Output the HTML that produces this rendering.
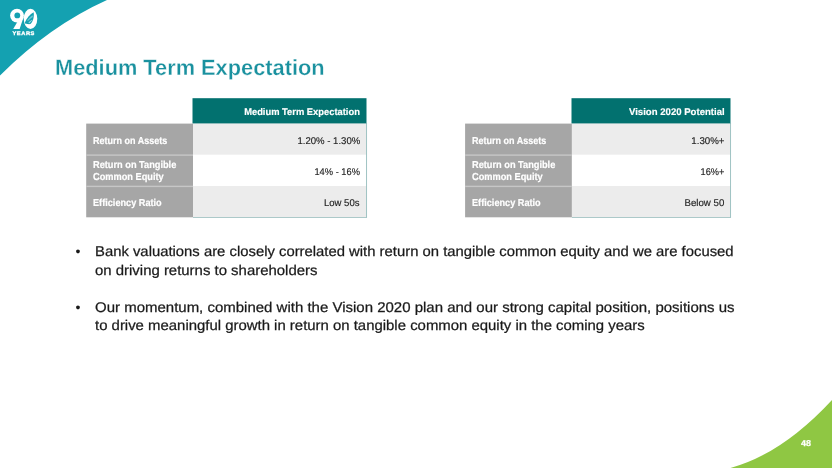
<!DOCTYPE html>
<html><head><meta charset="utf-8">
<style>
html,body{margin:0;padding:0;}
body{width:832px;height:468px;position:relative;overflow:hidden;background:#fff;font-family:"Liberation Sans",sans-serif;text-rendering:geometricPrecision;}
.t{position:absolute;white-space:nowrap;line-height:20px;height:20px;}
.t.l{transform-origin:0 50%;}
.t.r{transform-origin:100% 50%;}
svg{position:absolute;left:0;top:0;}
</style></head><body>
<svg width="832" height="468" viewBox="0 0 832 468">
<path d="M0,0 L107,0 Q49.7,25.8 0,75.5 Z" fill="#14a1b1"/>
<path d="M832,468 L730.5,468 Q782,454 832,400 Z" fill="#8fc743"/>
<!-- table 1 -->
<g>
<rect x="193" y="123.2" width="174.2" height="94.8" fill="#000" opacity="0.05"/>
<rect x="86.2" y="123.6" width="106.8" height="93.7" fill="#a6a6a6"/>
<rect x="193" y="123.2" width="173.1" height="31.6" fill="#ececec"/>
<rect x="193" y="154.7" width="173.1" height="31.5" fill="#ffffff"/>
<rect x="193" y="186.1" width="173.1" height="31.0" fill="#ececec"/>
<rect x="366" y="123.2" width="0.7" height="94.4" fill="#7fb0b0"/>
<rect x="193" y="217" width="173.7" height="0.6" fill="#7fb0b0"/>
<rect x="86.2" y="154.4" width="106.8" height="1.4" fill="#c6c6c6"/>
<rect x="86.2" y="185.7" width="106.8" height="1.4" fill="#c6c6c6"/>
<rect x="192.5" y="98.2" width="174" height="25.2" fill="#02716f"/>
</g>
<!-- table 2 -->
<g>
<rect x="571.9" y="123.2" width="159.3" height="94.8" fill="#000" opacity="0.05"/>
<rect x="465.1" y="123.6" width="106.8" height="93.7" fill="#a6a6a6"/>
<rect x="571.9" y="123.2" width="158.2" height="31.6" fill="#ececec"/>
<rect x="571.9" y="154.7" width="158.2" height="31.5" fill="#ffffff"/>
<rect x="571.9" y="186.1" width="158.2" height="31.0" fill="#ececec"/>
<rect x="730" y="123.2" width="0.7" height="94.4" fill="#7fb0b0"/>
<rect x="571.9" y="217" width="158.8" height="0.6" fill="#7fb0b0"/>
<rect x="465.1" y="154.4" width="106.8" height="1.4" fill="#c6c6c6"/>
<rect x="465.1" y="185.7" width="106.8" height="1.4" fill="#c6c6c6"/>
<rect x="571.5" y="98.2" width="159" height="25.2" fill="#02716f"/>
</g>
</svg>
<svg width="60" height="45" viewBox="0 0 60 45" style="position:absolute;left:0;top:0;will-change:transform">
<g fill="#fff">
<circle cx="17" cy="15.6" r="6.9"/>
<path d="M23.8,16.6 L19.6,28.9 L13.2,28.9 L18.2,20.5 Z"/>
<ellipse cx="30.5" cy="18.8" rx="6.8" ry="10.1"/>
</g>
<circle cx="17.3" cy="15.4" r="2.9" fill="#14a1b1"/>
<path d="M33.6,12.2 C34.4,17 33,22 29.8,24.6 C28.4,25 25.8,24.4 24.6,23 C26.8,18.2 30,14.2 33.6,12.2 Z" fill="#14a1b1"/>
<path d="M32.6,15.2 C30.6,16.6 28.6,18.4 27.2,20.2 L27.9,20.9 C29.6,19.4 31.4,18 32.9,17 Z" fill="#6cc4d3"/>
<path d="M32.4,19.4 C30.8,20.4 29.4,21.4 28.4,22.6 L29.3,23.2 C30.4,22.2 31.4,21.4 32,20.6 Z" fill="#9ad8e3"/>
<path d="M25.6,23.4 C27.4,24.4 30,24.6 32.4,23.4 L31.6,25.4 C29.6,26.2 27,25.8 25.4,24.6 Z" fill="#fff"/>
<g fill="#fff" font-family="Liberation Sans" font-weight="bold" font-size="5.2" letter-spacing="0.55">
<text x="12.4" y="34.6" textLength="22.6" lengthAdjust="spacingAndGlyphs" stroke="#fff" stroke-width="0.35">YEARS</text>
</g>
</svg>
<div id="txt" style="position:absolute;left:0;top:0;width:832px;height:468px;will-change:transform;">
<div id="title" class="t l" style="left:54.80px;top:58.00px;font-size:22.0px;font-weight:bold;color:#1a919f;transform:scaleX(0.9904);-webkit-text-stroke:0.3px #fff;">Medium Term Expectation</div>
<div id="h1" class="t r" style="right:472.10px;top:103.00px;font-size:9.7px;font-weight:bold;color:#fff;transform:scaleX(0.9653);-webkit-text-stroke:0.15px #fff;">Medium Term Expectation</div>
<div id="v11" class="t r" style="right:472.10px;top:132.00px;font-size:9.8px;font-weight:normal;color:#222222;transform:scaleX(0.9772);-webkit-text-stroke:0.15px #222;">1.20% - 1.30%</div>
<div id="v12" class="t r" style="right:472.10px;top:163.00px;font-size:9.8px;font-weight:normal;color:#222222;transform:scaleX(0.9492);-webkit-text-stroke:0.15px #222;">14% - 16%</div>
<div id="v13" class="t r" style="right:472.10px;top:194.00px;font-size:9.8px;font-weight:normal;color:#222222;transform:scaleX(0.9753);-webkit-text-stroke:0.15px #222;">Low 50s</div>
<div id="la1" class="t l" style="left:92.70px;top:132.00px;font-size:10.2px;font-weight:bold;color:#fff;transform:scaleX(0.8849);-webkit-text-stroke:0.2px #fff;">Return on Assets</div>
<div id="la2" class="t l" style="left:92.70px;top:156.00px;font-size:10.2px;font-weight:bold;color:#fff;transform:scaleX(0.9048);-webkit-text-stroke:0.2px #fff;">Return on Tangible</div>
<div id="la3" class="t l" style="left:92.70px;top:168.00px;font-size:10.2px;font-weight:bold;color:#fff;transform:scaleX(0.9051);-webkit-text-stroke:0.2px #fff;">Common Equity</div>
<div id="la4" class="t l" style="left:92.70px;top:194.00px;font-size:10.2px;font-weight:bold;color:#fff;transform:scaleX(0.8988);-webkit-text-stroke:0.2px #fff;">Efficiency Ratio</div>
<div id="lb1" class="t l" style="left:472.40px;top:132.00px;font-size:10.2px;font-weight:bold;color:#fff;transform:scaleX(0.8849);-webkit-text-stroke:0.2px #fff;">Return on Assets</div>
<div id="lb2" class="t l" style="left:472.40px;top:156.00px;font-size:10.2px;font-weight:bold;color:#fff;transform:scaleX(0.9048);-webkit-text-stroke:0.2px #fff;">Return on Tangible</div>
<div id="lb3" class="t l" style="left:472.40px;top:168.00px;font-size:10.2px;font-weight:bold;color:#fff;transform:scaleX(0.9051);-webkit-text-stroke:0.2px #fff;">Common Equity</div>
<div id="lb4" class="t l" style="left:472.40px;top:194.00px;font-size:10.2px;font-weight:bold;color:#fff;transform:scaleX(0.8988);-webkit-text-stroke:0.2px #fff;">Efficiency Ratio</div>
<div id="h2" class="t r" style="right:107.70px;top:103.00px;font-size:9.7px;font-weight:bold;color:#fff;transform:scaleX(0.9903);-webkit-text-stroke:0.15px #fff;">Vision 2020 Potential</div>
<div id="v21" class="t r" style="right:107.70px;top:132.00px;font-size:9.8px;font-weight:normal;color:#222222;transform:scaleX(0.9910);-webkit-text-stroke:0.15px #222;">1.30%+</div>
<div id="v22" class="t r" style="right:107.70px;top:163.00px;font-size:9.8px;font-weight:normal;color:#222222;transform:scaleX(0.9391);-webkit-text-stroke:0.15px #222;">16%+</div>
<div id="v23" class="t r" style="right:107.70px;top:194.00px;font-size:9.8px;font-weight:normal;color:#222222;transform:scaleX(0.9873);-webkit-text-stroke:0.15px #222;">Below 50</div>
<div id="b1" class="t l" style="left:95.40px;top:241.00px;font-size:14.1px;font-weight:normal;color:#1a1a1a;transform:scaleX(1.0531);-webkit-text-stroke:0.25px #1a1a1a;">Bank valuations are closely correlated with return on tangible common equity and we are focused</div>
<div id="b2" class="t l" style="left:95.40px;top:260.00px;font-size:14.1px;font-weight:normal;color:#1a1a1a;transform:scaleX(1.0595);-webkit-text-stroke:0.25px #1a1a1a;">on driving returns to shareholders</div>
<div id="b3" class="t l" style="left:95.40px;top:297.00px;font-size:14.1px;font-weight:normal;color:#1a1a1a;transform:scaleX(1.0635);-webkit-text-stroke:0.25px #1a1a1a;">Our momentum, combined with the Vision 2020 plan and our strong capital position, positions us</div>
<div id="b4" class="t l" style="left:95.40px;top:315.00px;font-size:14.1px;font-weight:normal;color:#1a1a1a;transform:scaleX(1.0585);-webkit-text-stroke:0.25px #1a1a1a;">to drive meaningful growth in return on tangible common equity in the coming years</div>
<div id="bu1" class="t l" style="left:75.50px;top:241.00px;font-size:14.1px;font-weight:normal;color:#1a1a1a;">•</div>
<div id="bu2" class="t l" style="left:75.50px;top:297.00px;font-size:14.1px;font-weight:normal;color:#1a1a1a;">•</div>
<div id="pg" class="t l" style="left:800.50px;top:433.00px;font-size:8.5px;font-weight:bold;color:#fff;transform:scaleX(1.0561);-webkit-text-stroke:0.25px #fff;">48</div>
</div>
</body></html>
